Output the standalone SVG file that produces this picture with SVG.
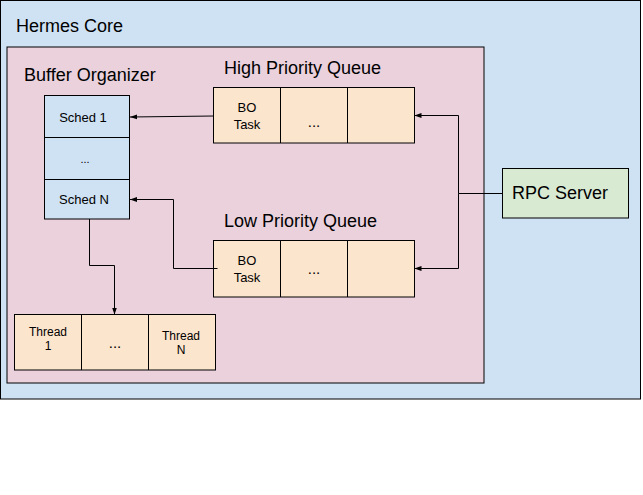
<svg xmlns="http://www.w3.org/2000/svg" width="643" height="495" viewBox="0 0 643 495">
<style>
text{font-family:"Liberation Sans",Arial,sans-serif;fill:#000}
.big{font-size:18px}
.sm{font-size:13px;text-anchor:middle}
.xs{font-size:12px;text-anchor:middle}
.box{stroke:#000;stroke-width:1}
.blue{fill:#cfe2f3}
.pink{fill:#ead1dc}
.tan{fill:#fce5cd}
.green{fill:#d9ead3}
.div{stroke:#000;stroke-width:1}
.conn{fill:none;stroke:#000;stroke-width:1}
</style>
<defs>
<marker id="arr" viewBox="0 0 10 10" refX="10" refY="5" markerWidth="7" markerHeight="7" orient="auto" markerUnits="userSpaceOnUse">
<path d="M0,1.5 L10,5 L0,8.5 z" fill="#000"/>
</marker>
</defs>
<rect width="643" height="495" fill="#fff"/>
<g id="hermes-core">
<rect class="box blue" x="0.5" y="0.5" width="640" height="398.5"/>
<text class="big" x="16" y="32">Hermes Core</text>
</g>
<g id="buffer-organizer-area">
<rect class="box pink" x="7" y="47" width="477" height="336"/>
<text class="big" x="24" y="81">Buffer Organizer</text>
</g>
<g id="schedulers">
<rect class="box blue" x="44.5" y="95.5" width="85" height="123.5"/>
<line class="div" x1="44.5" y1="137.5" x2="129.5" y2="137.5"/>
<line class="div" x1="44.5" y1="179.5" x2="129.5" y2="179.5"/>
<text class="sm" x="83" y="122">Sched 1</text>
<text class="xs" x="85" y="163" style="font-size:11px">...</text>
<text class="sm" x="84" y="204">Sched N</text>
</g>
<g id="high-priority-queue">
<text class="big" x="224" y="74">High Priority Queue</text>
<rect class="box tan" x="213.5" y="87.5" width="201" height="55.5"/>
<line class="div" x1="280.5" y1="87.5" x2="280.5" y2="143"/>
<line class="div" x1="347.5" y1="87.5" x2="347.5" y2="143"/>
<text class="sm" x="247" y="111.5">BO</text>
<text class="sm" x="247" y="128.5">Task</text>
<text class="sm" x="314" y="127" style="font-size:15px">...</text>
</g>
<g id="low-priority-queue">
<text class="big" x="224" y="227">Low Priority Queue</text>
<rect class="box tan" x="213.5" y="240.5" width="201" height="56.5"/>
<line class="div" x1="280.5" y1="240.5" x2="280.5" y2="297"/>
<line class="div" x1="347.5" y1="240.5" x2="347.5" y2="297"/>
<text class="sm" x="247" y="264.5">BO</text>
<text class="sm" x="247" y="281.5">Task</text>
<text class="sm" x="314" y="274" style="font-size:15px">...</text>
</g>
<g id="rpc-server">
<rect class="box green" x="502.5" y="168.5" width="126" height="49.5"/>
<text class="big" x="512" y="199">RPC Server</text>
</g>
<g id="threads">
<rect class="box tan" x="14.5" y="314.5" width="201" height="55.5"/>
<line class="div" x1="81.5" y1="314.5" x2="81.5" y2="370"/>
<line class="div" x1="148.5" y1="314.5" x2="148.5" y2="370"/>
<text class="xs" x="48" y="336">Thread</text>
<text class="xs" x="48" y="350">1</text>
<text class="sm" x="115" y="348" style="font-size:15px">...</text>
<text class="xs" x="181" y="339.5">Thread</text>
<text class="xs" x="181" y="353.5">N</text>
</g>
<g id="connectors">
<polyline class="conn" points="502.5,193.5 458.5,193.5 458.5,115.5 414.5,115.5" marker-end="url(#arr)"/>
<polyline class="conn" points="458.5,193.5 458.5,268.5 414.5,268.5" marker-end="url(#arr)"/>
<polyline class="conn" points="213.5,116 130,117" marker-end="url(#arr)"/>
<polyline class="conn" points="217.5,268.5 173.5,268.5 173.5,199.5 130,199.5" marker-end="url(#arr)"/>
<polyline class="conn" points="89.5,219 89.5,265.5 114.5,265.5 114.5,314.5" marker-end="url(#arr)"/>
</g>
</svg>
